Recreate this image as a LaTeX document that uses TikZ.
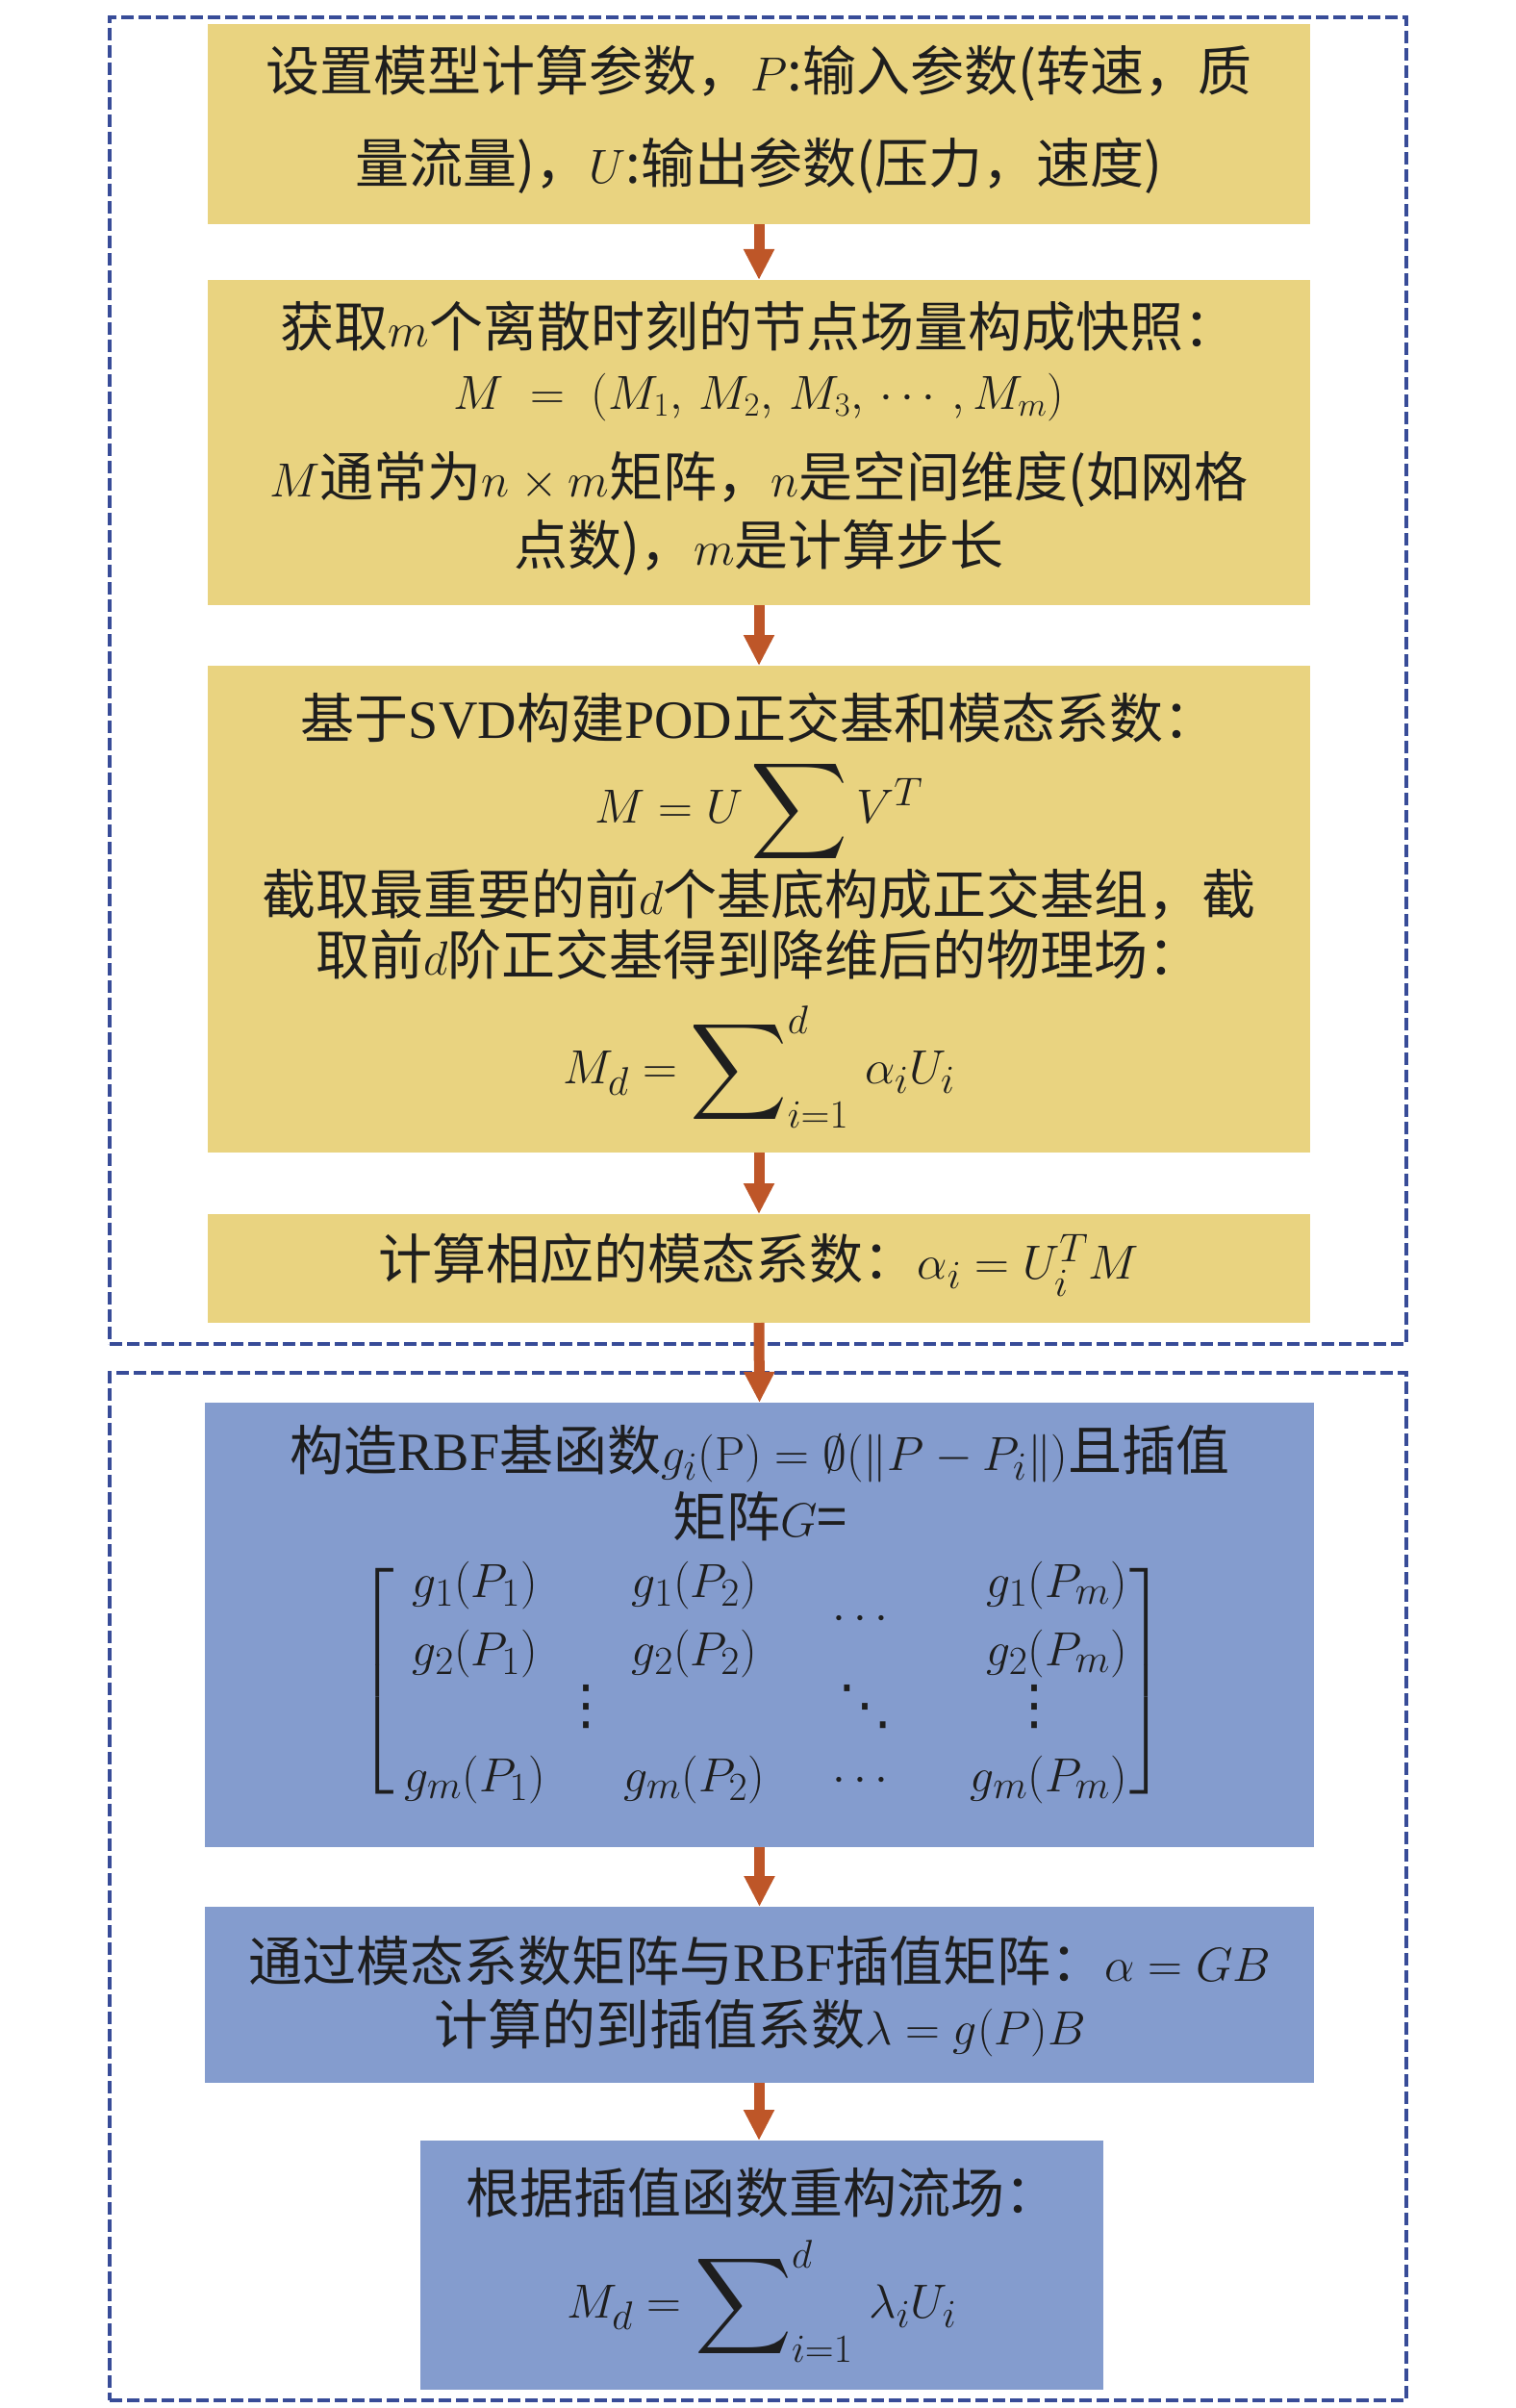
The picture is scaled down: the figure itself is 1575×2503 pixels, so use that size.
\documentclass[tikz,border=0pt]{standalone}
\usepackage[no-math]{fontspec}
\setmainfont{Noto Sans CJK SC}
\newfontfamily\ser{Liberation Serif}
\newfontfamily\dvs{DejaVu Sans}
\usepackage{amsmath,amssymb}
\usepackage{graphicx}
\usetikzlibrary{arrows.meta}
\definecolor{ybox}{RGB}{233,211,128}
\definecolor{bbox}{RGB}{132,156,206}
\definecolor{dashc}{RGB}{56,76,152}
\definecolor{arrc}{RGB}{190,86,40}
\definecolor{txtc}{RGB}{30,30,30}
\newcommand{\bigsum}{\mathop{\vcenter{\hbox{\scalebox{1.25}{$\displaystyle\sum$}}}}\nolimits}
\newcommand{\vd}{\mbox{\dvs ⋮}}
\newcommand{\dd}{\mbox{\dvs ⋱}}
\begin{document}
\begin{tikzpicture}[x=0.5pt,y=-0.5pt,
  ybx/.style={fill=ybox,draw=none,inner sep=0pt,outer sep=0pt,minimum width=573pt},
  bbx/.style={fill=bbox,draw=none,inner sep=0pt,outer sep=0pt},
  grp/.style={draw=dashc,line width=2pt,dash pattern=on 6.5pt off 2.5pt,inner sep=0pt,outer sep=0pt,minimum width=674pt},
  arr/.style={draw=arrc,line width=5.5pt,-{Triangle[width=15pt,length=16pt]}},
  txt/.style={inner sep=0pt,outer sep=0pt,font=\fontsize{28pt}{34pt}\selectfont,text=txtc},
]
\useasboundingbox (0,0) rectangle (1575,2503);
% groups
\node[grp,minimum height=689.5pt] (g1) at (788,707.5) {};
\node[grp,minimum height=534pt] (g2) at (788,1961) {};
% boxes
\node[ybx,minimum height=104pt] (b1) at (789,129) {};
\node[ybx,minimum height=169pt] (b2) at (789,460) {};
\node[ybx,minimum height=253pt] (b3) at (789,945) {};
\node[ybx,minimum height=56.5pt] (b4) at (789,1318.5) {};
\node[bbx,minimum width=576.5pt,minimum height=231pt] (b5) at (789.5,1689) {};
\node[bbx,minimum width=576.5pt,minimum height=91.5pt] (b6) at (789.5,2073.5) {};
\node[bbx,minimum width=355pt,minimum height=129.5pt] (b7) at (792,2354.5) {};
% arrows
\draw[arr] (b1.south) -- (b2.north);
\draw[arr] (b2.south) -- (b3.north);
\draw[arr] (b3.south) -- (b4.north);
\draw[arr] (b4.south) -- (b5.north);
\draw[arr] (b5.south) -- (b6.north);
\draw[arr] (b6.south -| b4.south) -- (b7.north -| b4.south);
% box 1
\node[txt] (t1a) at (789,76) {设置模型计算参数，$P$:输入参数(转速，质};
\node[txt] (t1b) at (789,172) {量流量)，$U$:输出参数(压力，速度)};
% box 2
\node[txt] (t2a) at (789,339) {获取$m$个离散时刻的节点场量构成快照：};
\node[txt,font=\fontsize{24pt}{30pt}\selectfont] (t2b) at (789,413) {$M\;=\;(M_1,\,M_2,\,M_3,\,\cdots,M_m)$};
\node[txt] (t2c) at (789,498) {$M$通常为$n\times m$矩阵，$n$是空间维度(如网格};
\node[txt] (t2d) at (789,569) {点数)，$m$是计算步长};
% box 3
\node[txt] (t3a) at (789,746) {基于{\ser SVD}构建{\ser POD}正交基和模态系数：};
\node[txt] (t3b) at (789,843) {$M = U \bigsum V^T$};
\node[txt] (t3c) at (789,930) {截取最重要的前$d$个基底构成正交基组，截};
\node[txt] (t3d) at (789,992) {取前$d$阶正交基得到降维后的物理场：};
\node[txt] (t3e) at (789,1109) {$M_d = \bigsum_{i=1}^{d}\,\alpha_i U_i$};
% box 4
\node[txt] (t4a) at (789,1315) {计算相应的模态系数：$\alpha_i = U_i^T M$};
% box 5
\node[txt] (t5a) at (790,1511) {构造{\ser RBF}基函数$g_i(\mathrm{P}) = \emptyset(\|P - P_i\|)$且插值};
\node[txt] (t5b) at (790,1576) {矩阵$G$=};
\node[txt] (t5c) at (792,1746) {$\left[\rule[-53.5pt]{0pt}{121pt}\right.\!\!\smash{\begin{array}{@{}c@{}c@{}c@{}c@{}}
\makebox[90pt]{$g_1(P_1)$} & \makebox[138pt]{$g_1(P_2)$} & \makebox[39pt]{\raisebox{-17pt}[0pt][0pt]{$\cdots$}} & \makebox[121pt][r]{$g_1(P_m)$\hspace{4pt}}\\[1.5pt]
\makebox[90pt]{$g_2(P_1)$} & \makebox[138pt]{$g_2(P_2)$} & \makebox[39pt]{} & \makebox[121pt][r]{$g_2(P_m)$\hspace{4pt}}\\[-4pt]
\makebox[90pt]{} & \makebox[138pt][l]{\hspace{12.5pt}\makebox[0pt]{\vd}} & \makebox[39pt]{\dd} & \makebox[121pt][l]{\hspace{69pt}\makebox[0pt]{\vd}}\\[1.5pt]
\makebox[90pt]{$g_m(P_1)$} & \makebox[138pt]{$g_m(P_2)$} & \makebox[39pt]{$\cdots$} & \makebox[121pt][r]{$g_m(P_m)$\hspace{4pt}}
\end{array}}\!\!\left.\rule[-53.5pt]{0pt}{121pt}\right]$};
% box 6
\node[txt] (t6a) at (790,2038) {通过模态系数矩阵与{\ser RBF}插值矩阵：$\alpha = GB$};
\node[txt] (t6b) at (790,2108) {计算的到插值系数$\lambda = g(P)B$};
% box 7
\node[txt] (t7a) at (792,2279) {根据插值函数重构流场：};
\node[txt] (t7b) at (792,2392) {$M_d = \bigsum_{i=1}^{d}\,\lambda_i U_i$};
\end{tikzpicture}
\end{document}
